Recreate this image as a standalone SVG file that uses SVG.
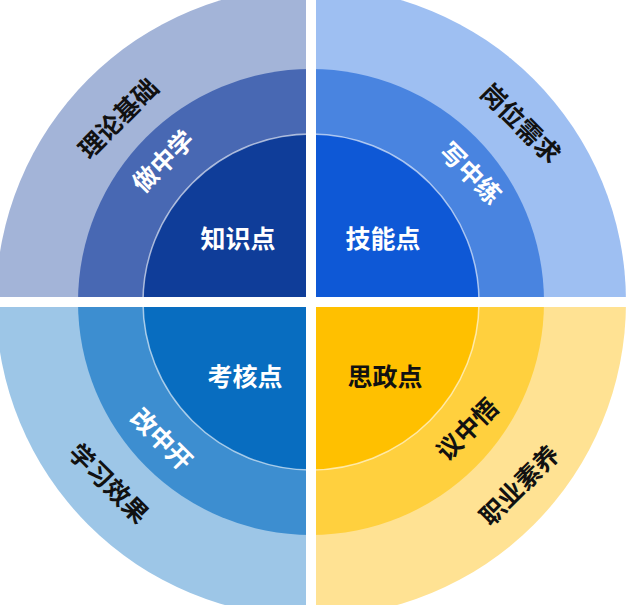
<svg xmlns="http://www.w3.org/2000/svg" width="630" height="605" viewBox="0 0 630 605">
<style>
text{font-family:"Noto Sans CJK SC","Noto Sans",sans-serif;font-weight:bold;font-size:25px;text-anchor:middle;dominant-baseline:central}
.w{fill:#fff}.k{fill:#111}
</style>
<g id="tl">
<path d="M311,302 L-4,302 A315,315 0 0 1 311,-13 Z" fill="#A3B4D8"/>
<path d="M311,302 L78,302 A233,233 0 0 1 311,69 Z" fill="#4868B3"/>
<path d="M311,302 L143,302 A168,168 0 0 1 311,134 Z" fill="#0F3D99"/>
</g>
<g id="tr">
<path d="M311,302 L311,-13 A315,315 0 0 1 626,302 Z" fill="#9EBFF2"/>
<path d="M311,302 L311,69 A233,233 0 0 1 544,302 Z" fill="#4984E0"/>
<path d="M311,302 L311,134 A168,168 0 0 1 479,302 Z" fill="#0E58D6"/>
</g>
<g id="bl">
<path d="M311,302 L311,617 A315,315 0 0 1 -4,302 Z" fill="#9DC6E7"/>
<path d="M311,302 L311,535 A233,233 0 0 1 78,302 Z" fill="#3D8ED0"/>
<path d="M311,302 L311,470 A168,168 0 0 1 143,302 Z" fill="#086DC0"/>
</g>
<g id="br">
<path d="M311,302 L626,302 A315,315 0 0 1 311,617 Z" fill="#FFE293"/>
<path d="M311,302 L544,302 A233,233 0 0 1 311,535 Z" fill="#FFD03E"/>
<path d="M311,302 L479,302 A168,168 0 0 1 311,470 Z" fill="#FFC000"/>
</g>
<circle cx="311" cy="302" r="168" fill="none" stroke="#fff" stroke-opacity="0.6" stroke-width="1.5"/>
<g id="gaps" stroke="#fff" stroke-width="10">
<line x1="0" y1="302" x2="630" y2="302"/>
<line x1="311" y1="0" x2="311" y2="605"/>
</g>
<text class="w" x="238" y="237">知识点</text>
<text class="w" x="383" y="237">技能点</text>
<text class="w" x="245" y="375">考核点</text>
<text class="k" x="385" y="375">思政点</text>
<text class="w" transform="translate(162,160) rotate(-45)">做中学</text>
<text class="k" transform="translate(117,117) rotate(-45)">理论基础</text>
<text class="w" transform="translate(472,172) rotate(45)">写中练</text>
<text class="k" transform="translate(522,122) rotate(45)">岗位需求</text>
<text class="w" transform="translate(163,438) rotate(45)">改中开</text>
<text class="k" transform="translate(110,482) rotate(45)">学习效果</text>
<text class="k" transform="translate(466,428) rotate(-45)">议中悟</text>
<text class="k" transform="translate(518,484) rotate(-45)">职业素养</text>
</svg>
